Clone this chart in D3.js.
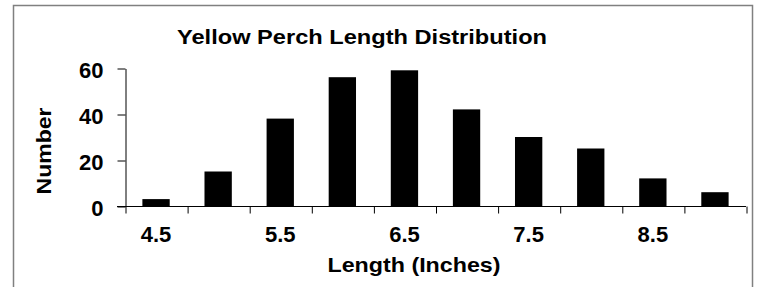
<!DOCTYPE html>
<html>
<head>
<meta charset="utf-8">
<script src="https://d3js.org/d3.v7.min.js"></script>
<style>
  body { margin: 0; background: #fff; }
  text { font-family: "Liberation Sans", Arial, sans-serif; font-weight: bold; fill: #000; }
  .axis path, .axis line { stroke: #000; }
</style>
</head>
<body>
<script>
// Yellow perch lengths (inches) and counts
var lengths = ["4.5", "5", "5.5", "6", "6.5", "7", "7.5", "8", "8.5", "9"];
var counts = [3, 15, 38, 56, 59, 42, 30, 25, 12, 6];
var yTicks = [0, 20, 40, 60];

var W = 757, H = 287;
var plotLeft = 125, plotRight = 746, plotTop = 68, plotBottom = 206;

var svg = d3.select("body").append("svg")
    .attr("width", W)
    .attr("height", H);

// outer frame
svg.append("rect")
    .attr("x", 13.5).attr("y", 5.5)
    .attr("width", 739).attr("height", 300)
    .attr("fill", "none")
    .attr("stroke", "#808080")
    .attr("stroke-width", 1.5);

var x = d3.scaleBand().domain(lengths).range([plotLeft, plotRight])
    .paddingInner(0.56).paddingOuter(0.28);
// category boundaries for tick marks
var xEdge = d3.scaleLinear().domain([0, lengths.length]).range([plotLeft, plotRight]);
var y = d3.scaleLinear().domain([0, 60]).range([plotBottom, plotTop]);

// bars
svg.append("g").selectAll("rect")
    .data(counts)
  .enter().append("rect")
    .attr("x", function(d, i) { return x(lengths[i]); })
    .attr("y", function(d) { return y(d); })
    .attr("width", x.bandwidth())
    .attr("height", function(d) { return plotBottom - y(d); })
    .attr("fill", "#000");

// y axis
var yAxis = svg.append("g")
    .attr("class", "axis")
    .attr("transform", "translate(" + (plotLeft + 0.5) + ",0.5)")
    .call(d3.axisLeft(y).tickValues(yTicks).tickSize(8).tickSizeOuter(0).tickPadding(14));
yAxis.selectAll("text").attr("font-size", 22).attr("dy", "0.42em");

// x axis (ticks between categories)
var xAxis = svg.append("g")
    .attr("class", "axis")
    .attr("transform", "translate(0," + (plotBottom + 0.5) + ")")
    .call(d3.axisBottom(xEdge).tickValues(d3.range(lengths.length + 1)).tickSize(7).tickSizeOuter(0).tickFormat(""));
xAxis.select(".domain").attr("d", "M" + (plotLeft - 8) + ",0H" + plotRight);
xAxis.selectAll(".tick line").attr("transform", "translate(0.5,0)");

// x labels, every other category
var xLab = svg.append("g")
    .attr("class", "axis")
    .attr("transform", "translate(0," + plotBottom + ")")
    .call(d3.axisBottom(x).tickSize(0).tickPadding(20)
      .tickFormat(function(d, i) { return i % 2 === 0 ? d : ""; }));
xLab.select(".domain").remove();
xLab.selectAll("text").attr("font-size", 22);

// titles
svg.append("text")
    .attr("x", 362).attr("y", 44)
    .attr("text-anchor", "middle")
    .attr("textLength", 370)
    .attr("lengthAdjust", "spacingAndGlyphs")
    .style("font-size", "20px")
    .text("Yellow Perch Length Distribution");

svg.append("text")
    .attr("x", 414).attr("y", 272)
    .attr("text-anchor", "middle")
    .attr("textLength", 173)
    .attr("lengthAdjust", "spacingAndGlyphs")
    .style("font-size", "21px")
    .text("Length (Inches)");

svg.append("text")
    .attr("transform", "translate(51,151)rotate(-90)")
    .attr("text-anchor", "middle")
    .attr("textLength", 87)
    .attr("lengthAdjust", "spacingAndGlyphs")
    .style("font-size", "21px")
    .text("Number");
</script>
</body>
</html>
